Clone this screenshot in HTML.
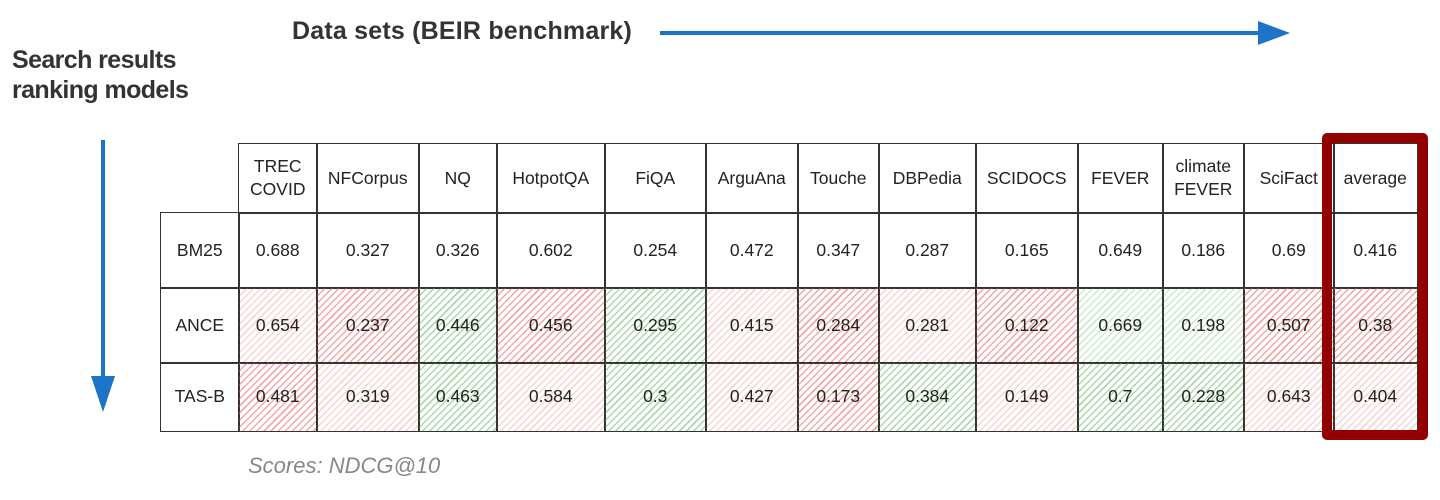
<!DOCTYPE html>
<html><head><meta charset="utf-8"><style>
body{margin:0;width:1440px;height:500px;background:#fff;position:relative;overflow:hidden;font-family:"Liberation Sans",sans-serif}
.t{position:absolute;font-weight:bold;color:#333;font-size:25px;letter-spacing:-0.6px}
.c{position:absolute;box-sizing:border-box;border:1.5px solid #333;display:flex;align-items:center;justify-content:center;text-align:center;font-size:17.5px;color:#222;line-height:23px}
.r1{background:repeating-linear-gradient(135deg,rgba(235,80,80,.5) 0 1.5px,transparent 1.5px 5px)}
.r2{background:repeating-linear-gradient(135deg,rgba(235,80,80,.25) 0 1.5px,transparent 1.5px 5px)}
.g1{background:repeating-linear-gradient(135deg,rgba(70,170,70,.45) 0 1.5px,transparent 1.5px 5px)}
.g2{background:repeating-linear-gradient(135deg,rgba(70,170,70,.27) 0 1.5px,transparent 1.5px 5px)}
</style></head><body>
<div class="t" style="left:292px;top:17px;letter-spacing:0.2px">Data sets (BEIR benchmark)</div>
<div class="t" style="left:12px;top:45px;line-height:30px">Search results<br>ranking models</div>
<svg style="position:absolute;left:0;top:0" width="1440" height="500">
<line x1="660" y1="33" x2="1262" y2="33" stroke="#1c74c9" stroke-width="4"/>
<polygon points="1258,21 1290,33 1258,45" fill="#1c74c9"/>
<line x1="103" y1="140" x2="103" y2="382" stroke="#1c74c9" stroke-width="4"/>
<polygon points="91,376 103,412 115,376" fill="#1c74c9"/>
</svg>
<div id="tbl"></div>
<div style="position:absolute;left:248px;top:453px;font-size:22px;font-style:italic;color:#888">Scores: NDCG@10</div>
<div style="position:absolute;left:1322px;top:133px;width:106px;height:307px;box-sizing:border-box;border:10px solid #920000;border-radius:5px"></div>
<script>
var xs=[238,316,418,496,604,705,797,878,975,1077,1162,1243,1333,1416];
var heads=["TREC<br>COVID","NFCorpus","NQ","HotpotQA","FiQA","ArguAna","Touche","DBPedia","SCIDOCS","FEVER","climate<br>FEVER","SciFact","average"];
var rows=[["BM25",["0.688","0.327","0.326","0.602","0.254","0.472","0.347","0.287","0.165","0.649","0.186","0.69","0.416"],[]],
["ANCE",["0.654","0.237","0.446","0.456","0.295","0.415","0.284","0.281","0.122","0.669","0.198","0.507","0.38"],["r2","r1","g1","r1","g1","r2","r1","r2","r1","g2","g2","r1","r1"]],
["TAS-B",["0.481","0.319","0.463","0.584","0.3","0.427","0.173","0.384","0.149","0.7","0.228","0.643","0.404"],["r1","r2","g1","r2","g1","r2","r1","g1","r2","g1","g1","r2","r2"]]];
var ys=[143,212,287,362,430];
var h="";
function cell(x,y,w,hh,txt,cls){return '<div class="c '+(cls||"")+'" style="left:'+x+'px;top:'+y+'px;width:'+(w+1.5)+'px;height:'+(hh+1.5)+'px">'+txt+'</div>';}
for(var i=0;i<13;i++)h+=cell(xs[i],ys[0],xs[i+1]-xs[i],ys[1]-ys[0],heads[i]);
for(var r=0;r<3;r++){h+=cell(160,ys[r+1],78,ys[r+2]-ys[r+1],rows[r][0]);
for(var i=0;i<13;i++)h+=cell(xs[i],ys[r+1],xs[i+1]-xs[i],ys[r+2]-ys[r+1],rows[r][1][i],rows[r][2][i]);}
document.getElementById("tbl").innerHTML=h;
</script>
</body></html>
